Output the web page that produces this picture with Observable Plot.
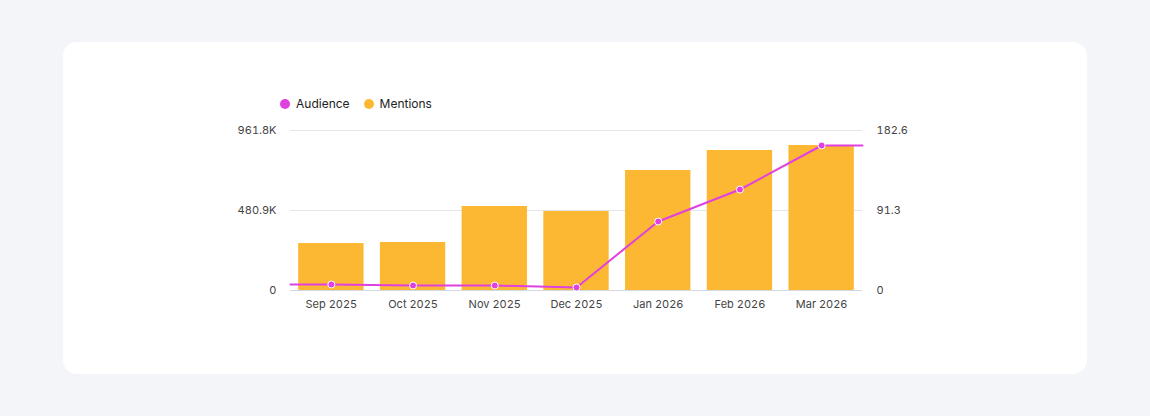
<!DOCTYPE html>
<html><head><meta charset="utf-8">
<script src="https://cdn.jsdelivr.net/npm/d3@7"></script>
<script src="https://cdn.jsdelivr.net/npm/@observablehq/plot@0.6"></script>
<style>
body{margin:0;background:#f4f5f9;font-family:Inter,sans-serif;}
#card{position:absolute;left:63px;top:42px;width:1024px;height:332px;background:#fff;border-radius:14px;}
#legend{position:absolute;left:217px;top:54px;font-size:12px;color:#222;display:flex;gap:14px;}
#legend span{display:flex;align-items:center;gap:6px}
#legend i{width:10px;height:10px;border-radius:50%;display:inline-block}
#chart{position:absolute;left:0;top:78px;}
</style></head><body>
<div id="card">
<div id="legend"><span><i style="background:#e040e0"></i>Audience</span><span><i style="background:#fdb833"></i>Mentions</span></div>
<div id="chart"></div>
</div>
<script>
const months = ["Sep 2025","Oct 2025","Nov 2025","Dec 2025","Jan 2026","Feb 2026","Mar 2026"];
const mentions = [53.6,54.8,95.9,90.2,137,159.8,165.5];
const audience = [36000,30000,30000,18000,414800,607000,871600];
const audMax = 961800, menMax = 182.6;
const leftTicks = ["0","480.9K","961.8K"];
const rightTicks = ["0","91.3","182.6"];

const bars = months.map((m,i)=>({i, v: mentions[i]*audMax/menMax}));
const pts = months.map((m,i)=>({i, v: audience[i]}));
const linePts = [{i:-0.5,v:audience[0]}, ...pts, {i:6.5,v:audience[6]}];
const tv = [0, audMax/2, audMax];

const plot = Plot.plot({
  width:1024, height:242, marginLeft:227, marginRight:225, marginTop:10, marginBottom:72,
  style:{fontFamily:"Inter, sans-serif", fontSize:"11px", color:"#444"},
  x:{domain:[-0.5,6.5]},
  y:{domain:[0,audMax]},
  marks:[
    Plot.gridY(tv,{stroke:"#e3e5ea", strokeOpacity:1}),
    Plot.rectY(bars,{x1:d=>d.i-0.4,x2:d=>d.i+0.4,y:"v",fill:"#fdb833"}),
    Plot.ruleY([0],{stroke:"#d4d7de"}),
    Plot.line(linePts,{x:"i",y:"v",stroke:"#e040e0",strokeWidth:2}),
    Plot.dot(pts,{x:"i",y:"v",r:3.5,fill:"#e040e0",stroke:"#fff",strokeWidth:1}),
    Plot.axisY(tv,{anchor:"left",tickSize:0,tickPadding:14,tickFormat:(d,k)=>leftTicks[k],label:null}),
    Plot.axisY(tv,{anchor:"right",tickSize:0,tickPadding:14,tickFormat:(d,k)=>rightTicks[k],label:null}),
    Plot.axisX(months.map((m,i)=>i),{tickSize:0,tickPadding:10,tickFormat:d=>months[d],label:null})
  ]
});
document.getElementById("chart").append(plot);
</script>
</body></html>
